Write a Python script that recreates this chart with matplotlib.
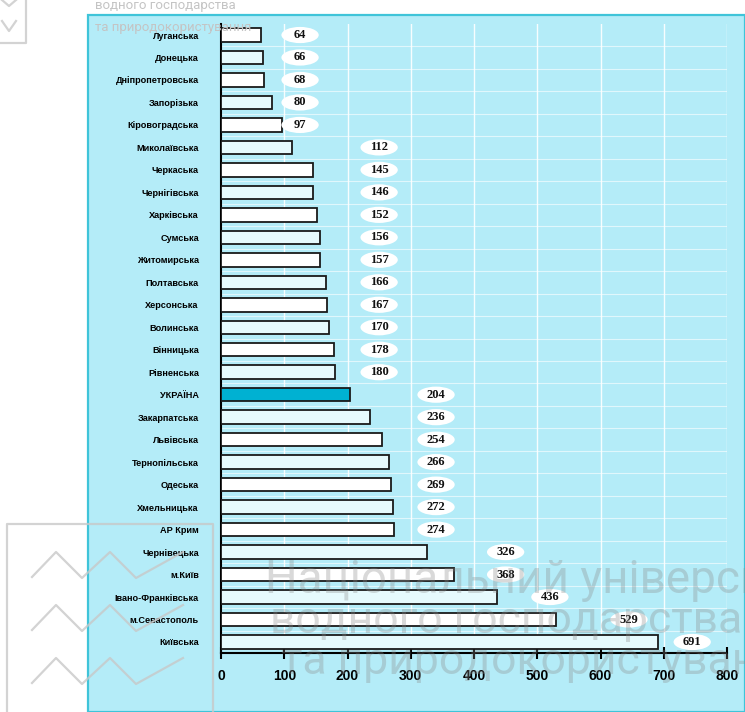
import numpy as np
import matplotlib.pyplot as plt
from matplotlib.patches import Ellipse, Rectangle
from matplotlib.lines import Line2D

regions = ['Луганська', 'Донецька', 'Дніпропетровська', 'Запорізька', 'Кіровоградська',
           'Миколаївська', 'Черкаська', 'Чернігівська', 'Харківська', 'Сумська',
           'Житомирська', 'Полтавська', 'Херсонська', 'Волинська', 'Вінницька',
           'Рівненська', 'УКРАЇНА', 'Закарпатська', 'Львівська', 'Тернопільська',
           'Одеська', 'Хмельницька', 'АР Крим', 'Чернівецька', 'м.Київ',
           'Івано-Франківська', 'м.Севастополь', 'Київська']
values = [64, 66, 68, 80, 97, 112, 145, 146, 152, 156, 157, 166, 167, 170, 178,
          180, 204, 236, 254, 266, 269, 272, 274, 326, 368, 436, 529, 691]
highlight = 'УКРАЇНА'
xticks = [0, 100, 200, 300, 400, 500, 600, 700, 800]

W, H = 745, 712


def fx(px):
    return px / W


def fy(py):
    return 1 - py / H


def label_x(v):
    # labels sit in columns, pushed right as the bars get longer
    if v < 100:
        return 125
    if v < 200:
        return 250
    if v < 300:
        return 340
    if v < 400:
        return 450
    if v < 500:
        return 520
    if v < 600:
        return 645
    return 745


fig = plt.figure(figsize=(W / 100, H / 100), dpi=100)
fig.patch.set_facecolor('white')

# light blue panel
fig.patches.append(Rectangle((fx(88), 0), 1 - fx(88), fy(15), transform=fig.transFigure,
                             facecolor='#b4ecf8', edgecolor='#3fc4d9', lw=1.6, zorder=-5))

ax = fig.add_axes([fx(221), fy(653), fx(727) - fx(221), (653 - 24) / H])
ax.set_facecolor('none')
ax.set_zorder(2)

y = np.arange(len(regions))
colors = []
for i, r in enumerate(regions):
    if r == highlight:
        colors.append('#00b1d2')
    elif i % 2 == 1:
        colors.append('#e6fafd')
    else:
        colors.append('white')

ax.barh(y, values, height=0.6, color=colors, edgecolor='#1a1a1a', linewidth=1.3, zorder=3)

for i, v in enumerate(values):
    lx = label_x(v)
    ax.add_patch(Ellipse((lx, i), 59, 0.72, facecolor='white', edgecolor='none', zorder=4,
                         clip_on=False))
    ax.text(lx, i, str(v), ha='center', va='center', fontsize=9, fontweight='bold',
            family='Liberation Serif', color='#111111', zorder=5)

# white grid
for t in xticks[1:]:
    ax.axvline(t, color='white', lw=1.0, alpha=0.9, zorder=1)
for i in range(len(regions) - 1):
    ax.axhline(i + 0.5, color='white', lw=0.8, alpha=0.6, zorder=1)

ax.set_xlim(0, 800)
ax.set_ylim(len(regions) - 1 + 0.49, -0.49)
ax.set_xticks(xticks)
ax.set_xticklabels([str(t) for t in xticks], fontsize=10, fontweight='bold',
                   family='Liberation Sans')
ax.tick_params(axis='x', direction='inout', length=9, width=1.5, pad=7)
ax.set_yticks(y)
ax.set_yticklabels(regions, fontsize=6.6, fontweight='bold', family='Liberation Sans')
ax.tick_params(axis='y', length=0, pad=16)
for s in ['top', 'right']:
    ax.spines[s].set_visible(False)
for s in ['left', 'bottom']:
    ax.spines[s].set_linewidth(1.5)
    ax.spines[s].set_color('black')

# watermark
wm = '#8a8a8a'
fig.text(fx(265), fy(580), 'Національний університет', fontsize=33, color=wm, alpha=0.32,
         family='Roboto', va='center', ha='left', zorder=10)
fig.text(fx(270), fy(621), 'водного господарства', fontsize=32, color=wm, alpha=0.32,
         family='Roboto', va='center', ha='left', zorder=10)
fig.text(fx(281), fy(662), 'та природокористування', fontsize=32, color=wm, alpha=0.32,
         family='Roboto', va='center', ha='left', zorder=10)
fig.text(fx(95), fy(6), 'водного господарства', fontsize=9.5, color='#c4c4c4',
         family='Roboto', va='center', ha='left', zorder=10)
fig.text(fx(95), fy(27), 'та природокористування', fontsize=9.5, color='#c4c4c4',
         family='Roboto', va='center', ha='left', zorder=10)

logo = '#c8c8c8'
def fig_line(xs, ys):
    fig.add_artist(Line2D([fx(v) for v in xs], [fy(v) for v in ys], color=logo, lw=1.6,
                          alpha=0.8, zorder=9))

fig_line([7, 7, 213, 213], [712, 524, 524, 712])
for dy in [0, 53, 106]:
    fig_line([32, 56, 82, 110, 136, 183], [577 + dy, 552 + dy, 578 + dy, 552 + dy, 578 + dy, 552 + dy])
fig_line([26, 26, 0], [0, 43, 43])
fig_line([2, 9, 16], [0, 6, 0])
fig_line([2, 9, 16], [21, 31, 21])

fig.savefig('out.png', dpi=100)
